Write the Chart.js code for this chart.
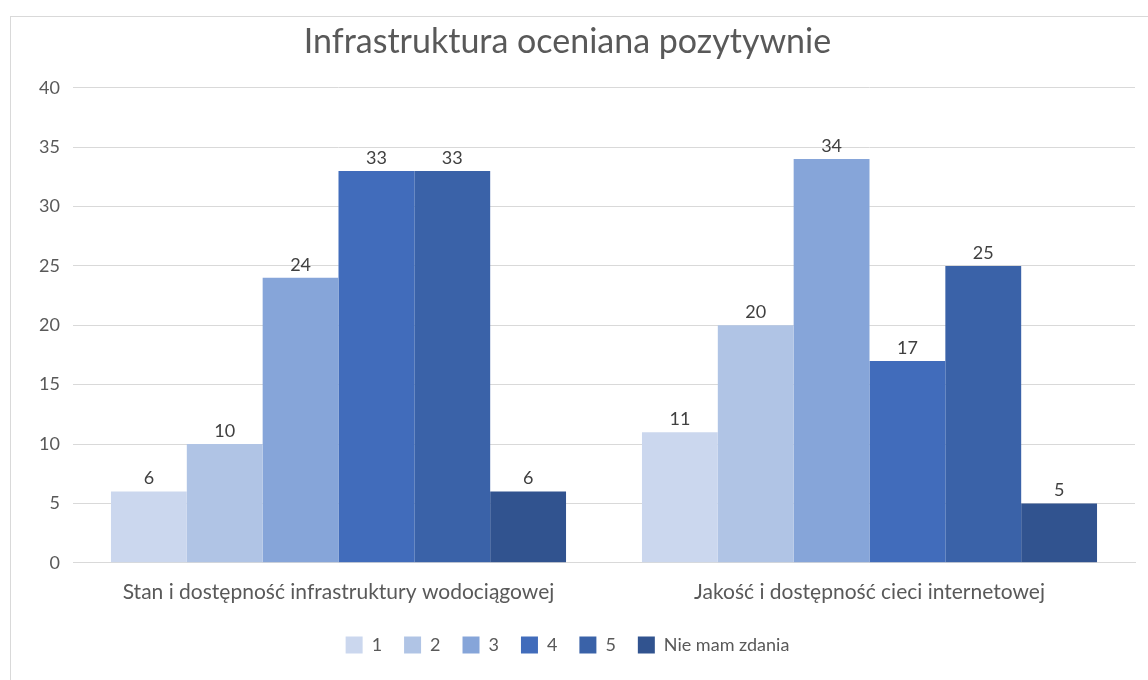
<!DOCTYPE html>
<html>
<head>
<meta charset="utf-8">
<script src="https://cdn.jsdelivr.net/npm/chart.js@4"></script>
<style>
  body { margin: 0; background: #fff; }
  #frame { position: absolute; left: 10px; top: 16px; width: 1200px; height: 700px; border: 1px solid #d9d9d9; }
  #wrap { position: absolute; left: 0; top: 0; width: 1148px; height: 680px; }
</style>
</head>
<body>
<div id="frame"></div>
<div id="wrap"><canvas id="chart"></canvas></div>
<script>
const categories = ['Stan i dostępność infrastruktury wodociągowej', 'Jakość i dostępność cieci internetowej'];
const seriesNames = ['1', '2', '3', '4', '5', 'Nie mam zdania'];
const s1 = [6, 11];
const s2 = [10, 20];
const s3 = [24, 34];
const s4 = [33, 17];
const s5 = [33, 25];
const sNone = [6, 5];
const yTicks = [0, 5, 10, 15, 20, 25, 30, 35, 40];

const colors = ['#cbd7ee', '#b0c4e5', '#86a5d9', '#416cbb', '#3a62a8', '#31538f'];
const values = [s1, s2, s3, s4, s5, sNone];

const FONT = 'Lato, "Open Sans", sans-serif';

// value labels above the bars
const barLabels = {
  id: 'barLabels',
  afterDatasetsDraw(chart) {
    const ctx = chart.ctx;
    ctx.save();
    ctx.font = '18px ' + FONT;
    ctx.fillStyle = '#404040';
    ctx.textAlign = 'center';
    ctx.textBaseline = 'bottom';
    chart.data.datasets.forEach((ds, i) => {
      chart.getDatasetMeta(i).data.forEach((bar, j) => {
        ctx.fillText(ds.data[j], bar.x, bar.y - 4);
      });
    });
    ctx.restore();
  }
};

new Chart(document.getElementById('chart'), {
  type: 'bar',
  data: {
    labels: categories,
    datasets: seriesNames.map((name, i) => ({
      label: name,
      data: values[i],
      backgroundColor: colors[i],
      barPercentage: 1,
      categoryPercentage: 0.857
    }))
  },
  options: {
    responsive: true,
    maintainAspectRatio: false,
    animation: false,
    layout: { padding: { left: 0, right: 13, top: 12, bottom: 16 } },
    plugins: {
      title: {
        display: true,
        text: 'Infrastruktura oceniana pozytywnie',
        color: '#595959',
        font: { family: FONT, size: 34, weight: 'normal' },
        padding: { top: 10, bottom: 25 }
      },
      legend: {
        position: 'bottom',
        labels: {
          color: '#595959',
          font: { family: FONT, size: 18 },
          boxWidth: 17,
          boxHeight: 17,
          padding: 22
        }
      },
      tooltip: { enabled: false }
    },
    scales: {
      x: {
        grid: { display: false },
        border: { color: '#d9d9d9' },
        ticks: { color: '#595959', font: { family: FONT, size: 21 }, padding: 9 }
      },
      y: {
        min: 0,
        max: 40,
        afterFit(scale) { scale.width = 73; },
        afterBuildTicks(scale) { scale.ticks = yTicks.map(v => ({ value: v })); },
        grid: { color: '#d9d9d9', drawTicks: false },
        border: { display: false },
        ticks: { color: '#595959', font: { family: FONT, size: 18 }, padding: 13 }
      }
    }
  },
  plugins: [barLabels]
});
</script>
</body>
</html>
